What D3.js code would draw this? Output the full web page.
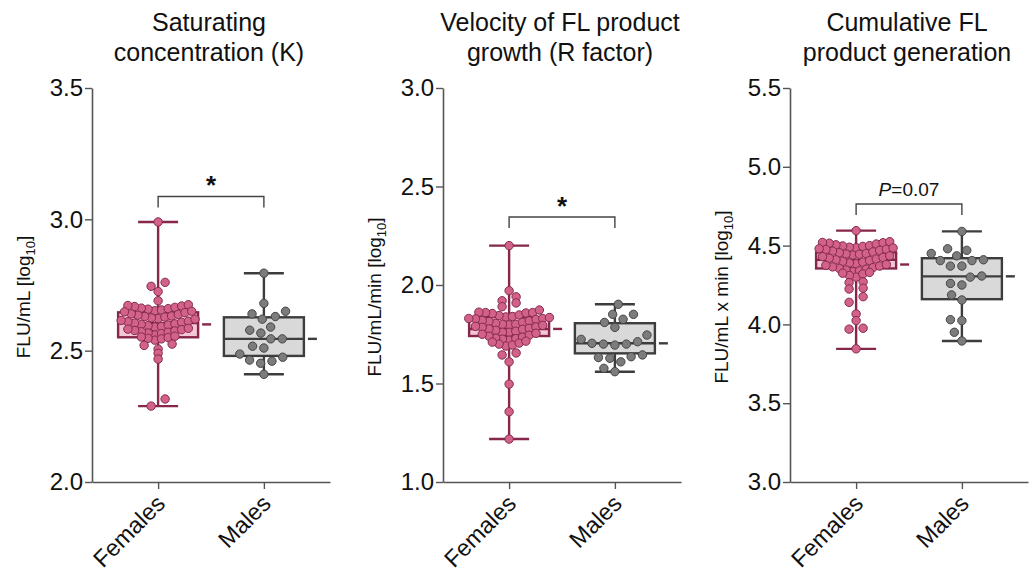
<!DOCTYPE html>
<html><head><meta charset="utf-8">
<script src="https://cdn.jsdelivr.net/npm/d3@7/dist/d3.min.js"></script>
<style>body{margin:0;background:#fff}svg{display:block}text{font-family:Arial,"Liberation Sans",sans-serif}</style>
</head><body><svg id="c" width="1029" height="575"></svg>
<script>
const categories = ["Females", "Males"];
const titles = [["Saturating", "concentration (K)"], ["Velocity of FL product", "growth (R factor)"], ["Cumulative FL", "product generation"]];
const yLabelMain = ["FLU/mL [log", "FLU/mL/min [log", "FLU/mL x min [log"];
const yLabelSub = "10";
const yDomains = [[2, 3.5], [1, 3], [3, 5.5]];
const yTicks = [[2.0, 2.5, 3.0, 3.5], [1.0, 1.5, 2.0, 2.5, 3.0], [3.0, 3.5, 4.0, 4.5, 5.0, 5.5]];

// Panel 1: saturating concentration (K)
const kFemales = [2.99, 2.76, 2.745, 2.725, 2.69,
  2.675, 2.672, 2.670, 2.668, 2.665, 2.662, 2.66, 2.658, 2.655, 2.652, 2.65, 2.648,
  2.645, 2.64, 2.638, 2.635, 2.632, 2.63, 2.628, 2.625, 2.622, 2.62,
  2.615, 2.612, 2.61, 2.608, 2.605, 2.602, 2.60, 2.598, 2.595, 2.592, 2.59,
  2.585, 2.582, 2.58, 2.577, 2.575, 2.572, 2.57, 2.567, 2.565, 2.56,
  2.555, 2.552, 2.55, 2.547, 2.545, 2.54,
  2.525, 2.52, 2.506, 2.49, 2.468, 2.316, 2.289];
const kMales = [2.795, 2.68, 2.64, 2.62, 2.63, 2.65, 2.59, 2.567, 2.578, 2.545, 2.545, 2.51, 2.517, 2.487, 2.475, 2.464, 2.452, 2.46, 2.41];
// Panel 2: velocity (R factor)
const rFemales = [2.20, 1.971, 1.94, 1.92, 1.909, 1.89, 1.873, 1.86, 1.862, 1.858, 1.86, 1.855,
  1.848, 1.845, 1.84, 1.838, 1.835, 1.83, 1.83, 1.828, 1.825, 1.82, 1.818, 1.815, 1.81, 1.805, 1.80, 1.80,
  1.798, 1.795, 1.79, 1.787, 1.785, 1.78, 1.777, 1.775, 1.77, 1.765, 1.76, 1.76, 1.755, 1.75, 1.745,
  1.74, 1.735, 1.73, 1.728, 1.725, 1.72, 1.715, 1.71, 1.705, 1.70, 1.695, 1.69,
  1.655, 1.645, 1.61, 1.497, 1.357, 1.218];
const rMales = [1.902, 1.851, 1.851, 1.826, 1.81, 1.785, 1.746, 1.712, 1.70, 1.695, 1.70, 1.704, 1.724, 1.628, 1.645, 1.632, 1.636, 1.61, 1.577, 1.56];
// Panel 3: cumulative generation
const cFemales = [4.595,
  4.525, 4.52, 4.518, 4.515, 4.51, 4.505, 4.50, 4.498, 4.495, 4.49, 4.487, 4.485, 4.48, 4.477, 4.475,
  4.47, 4.465, 4.46, 4.455, 4.45, 4.447, 4.445, 4.44, 4.435, 4.43, 4.425, 4.42, 4.415, 4.41, 4.405,
  4.40, 4.395, 4.39, 4.385, 4.38, 4.375, 4.37, 4.365, 4.36, 4.355, 4.35, 4.345, 4.34, 4.335, 4.33,
  4.325, 4.32, 4.31, 4.30,
  4.265, 4.27, 4.225, 4.23, 4.176, 4.14, 4.066, 4.024, 3.976, 3.97, 3.845];
const cMales = [4.59, 4.47, 4.45, 4.48, 4.435, 4.405, 4.41, 4.405, 4.37, 4.37, 4.30, 4.307, 4.25, 4.26, 4.155, 4.187, 4.024, 4.03, 3.95, 3.895];

// box stats [min, q1, median, q3, max] and means
const kBoxFemales = [2.289, 2.551, 2.605, 2.646, 2.99], kBoxMales = [2.41, 2.48, 2.545, 2.627, 2.795];
const rBoxFemales = [1.218, 1.741, 1.777, 1.837, 2.20], rBoxMales = [1.56, 1.653, 1.704, 1.806, 1.902];
const cBoxFemales = [3.845, 4.355, 4.41, 4.457, 4.595], cBoxMales = [3.895, 4.16, 4.305, 4.42, 4.59];
const kMeans = [2.60, 2.545], rMeans = [1.777, 1.704], cMeans = [4.38, 4.305];

const sigLevels = [3.087, 2.345, 4.764];
const sigLabels = ["*", "*", "P=0.07"];

const panels = [
  {vals: [kFemales, kMales], boxes: [kBoxFemales, kBoxMales], means: kMeans},
  {vals: [rFemales, rMales], boxes: [rBoxFemales, rBoxMales], means: rMeans},
  {vals: [cFemales, cMales], boxes: [cBoxFemales, cBoxMales], means: cMeans}
];

const colors = {
  Females: {dot: "#d3628a", dotStroke: "#862a4d", box: "#f3c7d5", line: "#85264a"},
  Males: {dot: "#7c7c7c", dotStroke: "#454545", box: "#d9d9d9", line: "#3d3d3d"}
};

const svg = d3.select("#c");
const axisXs = [92, 443, 790];
const W = 238, yTop = 88, yBot = 482;
const R = 4.2;
const FONT = "Arial, 'Liberation Sans', sans-serif";

// dense groups: bin points into rows one dot high, spread each row horizontally
function rowScatter(values, y, center, dy, dx) {
  const y0 = y(center);
  const rows = d3.group(values.map(v => ({v, y: y(v), x: 0})), p => Math.round((p.y - y0) / dy));
  const out = [];
  for (const [, pts] of rows) {
    pts.sort((a, b) => a.v - b.v);
    const n = pts.length;
    const step = n > 1 && n <= 3 ? 14 : dx;
    const offs = d3.range(n).map(k => (k - (n - 1) / 2) * step).sort((a, b) => Math.abs(a) - Math.abs(b) || a - b);
    pts.forEach((p, k) => { p.x = offs[k]; out.push(p); });
  }
  return out;
}
// sparse groups: beeswarm with a wide spacing
function swarm(values, y, d) {
  const pts = values.map(v => ({v, y: y(v), x: 0})).sort((a, b) => a.v - b.v);
  const placed = [];
  for (const p of pts) {
    const near = placed.filter(q => Math.abs(q.y - p.y) < d);
    const cands = [0];
    for (const q of near) {
      const dx = Math.sqrt(d * d - (q.y - p.y) ** 2);
      cands.push(q.x + dx, q.x - dx);
    }
    cands.sort((a, b) => Math.abs(a) - Math.abs(b) || a - b);
    for (const c of cands) {
      if (near.every(q => (q.x - c) ** 2 + (q.y - p.y) ** 2 >= d * d - 0.01)) { p.x = c; break; }
    }
    placed.push(p);
  }
  return pts;
}

panels.forEach((P, i) => {
  const g = svg.append("g").attr("transform", `translate(${axisXs[i]},0)`);
  const y = d3.scaleLinear().domain(yDomains[i]).range([yBot, yTop]);
  const x = d3.scalePoint().domain(categories).range([0, W]).padding(0.625);

  // title
  const t = g.append("text").attr("y", 31).attr("text-anchor", "middle").attr("font-size", 25).attr("fill", "#111");
  titles[i].forEach((line, k) => t.append("tspan").attr("x", W / 2 - 2).attr("dy", k ? 30 : 0).text(line));

  // axes
  const ya = g.append("g").call(d3.axisLeft(y).tickValues(yTicks[i]).tickFormat(d3.format(".1f")).tickSize(7).tickSizeOuter(0));
  ya.select(".domain").attr("stroke", "#555").attr("stroke-width", 1.6);
  ya.selectAll(".tick line").attr("stroke", "#555").attr("stroke-width", 1.4);
  ya.selectAll(".tick text").attr("font-size", 24).attr("fill", "#111").attr("x", -9).attr("font-family", FONT);

  const xa = g.append("g").attr("transform", `translate(0,${yBot})`).call(d3.axisBottom(x).tickSize(7).tickSizeOuter(0));
  xa.select(".domain").attr("stroke", "#555").attr("stroke-width", 1.6);
  xa.selectAll(".tick line").attr("stroke", "#555").attr("stroke-width", 1.4);
  xa.selectAll(".tick text").attr("font-size", 23.5).attr("fill", "#111").attr("text-anchor", "end")
    .attr("font-family", FONT).attr("x", null).attr("y", null).attr("dy", null)
    .attr("transform", "translate(8,23) rotate(-45)");

  // y label
  const yl = g.append("text").attr("transform", `translate(-62,${297}) rotate(-90)`)
    .attr("text-anchor", "middle").attr("font-size", 19).attr("fill", "#111");
  yl.append("tspan").text(yLabelMain[i]);
  yl.append("tspan").attr("font-size", 13).attr("dy", 5).text(yLabelSub);
  yl.append("tspan").attr("dy", -5).text("]");

  // boxes
  categories.forEach((cat, j) => {
    const col = colors[cat];
    const cx = x(cat), b = P.boxes[j];
    const bw = 40, cw = 20;
    const bg = g.append("g");
    bg.append("line").attr("x1", cx).attr("x2", cx).attr("y1", y(b[0])).attr("y2", y(b[4])).attr("stroke", col.line).attr("stroke-width", 2.4);
    [b[0], b[4]].forEach(v => bg.append("line").attr("x1", cx - cw).attr("x2", cx + cw).attr("y1", y(v)).attr("y2", y(v)).attr("stroke", col.line).attr("stroke-width", 2.4));
    bg.append("rect").attr("x", cx - bw).attr("width", 2 * bw).attr("y", y(b[3])).attr("height", y(b[1]) - y(b[3]))
      .attr("fill", col.box).attr("stroke", col.line).attr("stroke-width", 2.4);
    bg.append("line").attr("x1", cx - bw).attr("x2", cx + bw).attr("y1", y(b[2])).attr("y2", y(b[2])).attr("stroke", col.line).attr("stroke-width", 2.4);
    bg.append("line").attr("x1", cx + bw + 4).attr("x2", cx + bw + 13).attr("y1", y(P.means[j])).attr("y2", y(P.means[j])).attr("stroke", col.line).attr("stroke-width", 2.4);

    const pts = cat === "Females" ? rowScatter(P.vals[j], y, b[2], 2 * R * 0.95, 2 * R * 0.8) : swarm(P.vals[j], y, 11.5);
    bg.selectAll("circle").data(pts).join("circle")
      .attr("cx", d => cx + d.x).attr("cy", d => d.y).attr("r", R)
      .attr("fill", col.dot).attr("stroke", col.dotStroke).attr("stroke-width", 1);
  });

  // significance bracket
  const sy = y(sigLevels[i]);
  const x1 = x(categories[0]), x2 = x(categories[1]);
  g.append("path").attr("d", `M${x1},${sy + 11}V${sy}H${x2}V${sy + 11}`).attr("fill", "none").attr("stroke", "#444").attr("stroke-width", 1.4);
  const st = g.append("text").attr("x", (x1 + x2) / 2).attr("text-anchor", "middle").attr("fill", "#111");
  if (sigLabels[i] === "*") {
    st.attr("y", sy - 2).attr("font-size", 26).attr("font-weight", "bold").text("*");
  } else {
    st.attr("y", sy - 8).attr("font-size", 19);
    st.append("tspan").attr("font-style", "italic").text(sigLabels[i].slice(0, 1));
    st.append("tspan").text(sigLabels[i].slice(1));
  }
});
</script></body></html>
